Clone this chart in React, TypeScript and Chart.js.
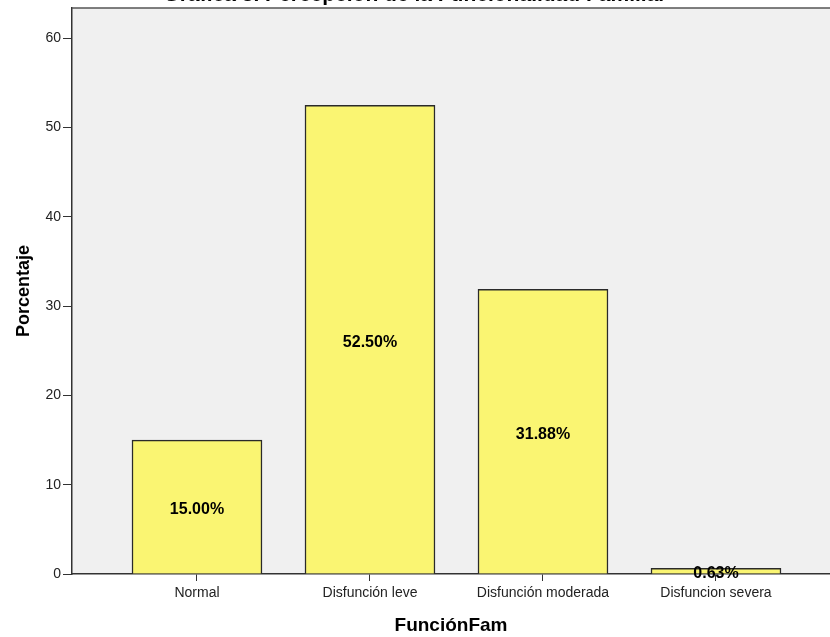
import React, { useEffect, useRef } from "react";
import { Chart, registerables } from "chart.js";

Chart.register(...registerables);

const categories = ["Normal", "Disfunción leve", "Disfunción moderada", "Disfuncion severa"];
const percentages = [15.0, 52.5, 31.88, 0.63];
const yTicks = [0, 10, 20, 30, 40, 50, 60];
const titleText = "Gráfica 3. Percepción de la Funcionalidad Familiar";
const xTitle = "FunciónFam";
const yTitle = "Porcentaje";

const FONT = "'Liberation Sans', Arial, sans-serif";

const framePlugin = {
  id: "frame",
  beforeDraw(chart: any) {
    const { ctx, chartArea } = chart;
    ctx.save();
    ctx.fillStyle = "#f0f0f0";
    ctx.fillRect(chartArea.left, chartArea.top, chartArea.right - chartArea.left, chartArea.bottom - chartArea.top);
    ctx.restore();
  },
  afterDraw(chart: any) {
    const { ctx, chartArea } = chart;
    ctx.save();
    ctx.strokeStyle = "#555";
    ctx.lineWidth = 1.5;
    ctx.beginPath();
    ctx.moveTo(chartArea.left, chartArea.top);
    ctx.lineTo(chartArea.right, chartArea.top);
    ctx.stroke();
    ctx.restore();
  },
};

const labelPlugin = {
  id: "barLabels",
  afterDatasetsDraw(chart: any) {
    const { ctx } = chart;
    const meta = chart.getDatasetMeta(0);
    ctx.save();
    ctx.font = "bold 16px " + FONT;
    ctx.fillStyle = "#000";
    ctx.textAlign = "center";
    ctx.textBaseline = "middle";
    meta.data.forEach((el: any, i: number) => {
      const y = (el.y + el.base) / 2 + 3;
      ctx.fillText(percentages[i].toFixed(2) + "%", el.x, y);
    });
    ctx.restore();
  },
};

export default function App() {
  const ref = useRef<HTMLCanvasElement>(null);

  useEffect(() => {
    if (!ref.current) return;
    const chart = new Chart(ref.current, {
      type: "bar",
      data: {
        datasets: [
          {
            data: percentages.map((v, i) => ({ x: i, y: v })),
            backgroundColor: "#faf572",
            borderColor: "#2a2a2a",
            borderWidth: 1.5,
            barThickness: 130,
          } as any,
        ],
      },
      options: {
        responsive: false,
        animation: false,
        layout: { padding: { left: 0, right: 0, top: 0, bottom: 0 } },
        plugins: {
          legend: { display: false },
          tooltip: { enabled: false },
          title: {
            display: true,
            text: titleText,
            color: "#000",
            font: { family: FONT, size: 21, weight: "bold", lineHeight: 1.0 },
            padding: { top: 4.5, bottom: 2.5 },
          },
        },
        scales: {
          x: {
            type: "linear",
            offset: false,
            min: -0.7225,
            max: 3.659,
            afterBuildTicks: (scale: any) => {
              scale.ticks = categories.map((_, i) => ({ value: i }));
            },
            afterFit: (scale: any) => {
              scale.height = 63;
              scale.paddingLeft = 0;
              scale.paddingRight = 0;
            },
            ticks: {
              callback: (v: any) => categories[v as number] ?? "",
              color: "#222",
              font: { family: FONT, size: 14 },
              padding: 4,
              maxRotation: 0,
              autoSkip: false,
            },
            grid: { offset: false, drawOnChartArea: false, drawTicks: true, tickLength: 7, color: "#333" },
            border: { display: true, color: "#333", width: 1.5 },
            title: {
              display: true,
              text: xTitle,
              color: "#000",
              font: { family: FONT, size: 19, weight: "bold" },
              padding: { top: 0, bottom: 0 },
            },
          },
          y: {
            min: 0,
            max: 63.4,
            afterBuildTicks: (scale: any) => {
              scale.ticks = yTicks.map((v) => ({ value: v }));
            },
            afterFit: (scale: any) => {
              scale.width = 72;
              scale.paddingTop = 0;
              scale.paddingBottom = 0;
            },
            ticks: {
              color: "#222",
              font: { family: FONT, size: 14 },
              padding: 2,
            },
            grid: { drawOnChartArea: false, drawTicks: true, tickLength: 9, color: "#333" },
            border: { display: true, color: "#333", width: 1.5 },
            title: {
              display: true,
              text: yTitle,
              color: "#000",
              font: { family: FONT, size: 18, weight: "bold" },
              padding: { top: 13, bottom: 0 },
            },
          },
        },
      } as any,
      plugins: [framePlugin, labelPlugin],
    });
    return () => chart.destroy();
  }, []);

  return (
    <div
      style={{
        position: "fixed",
        left: 0,
        top: 0,
        width: 830,
        height: 637,
        overflow: "hidden",
        background: "#fff",
      }}
    >
      <canvas
        ref={ref}
        width={830}
        height={657}
        style={{ position: "absolute", left: 0, top: -20, width: 830, height: 657 }}
      />
    </div>
  );
}
